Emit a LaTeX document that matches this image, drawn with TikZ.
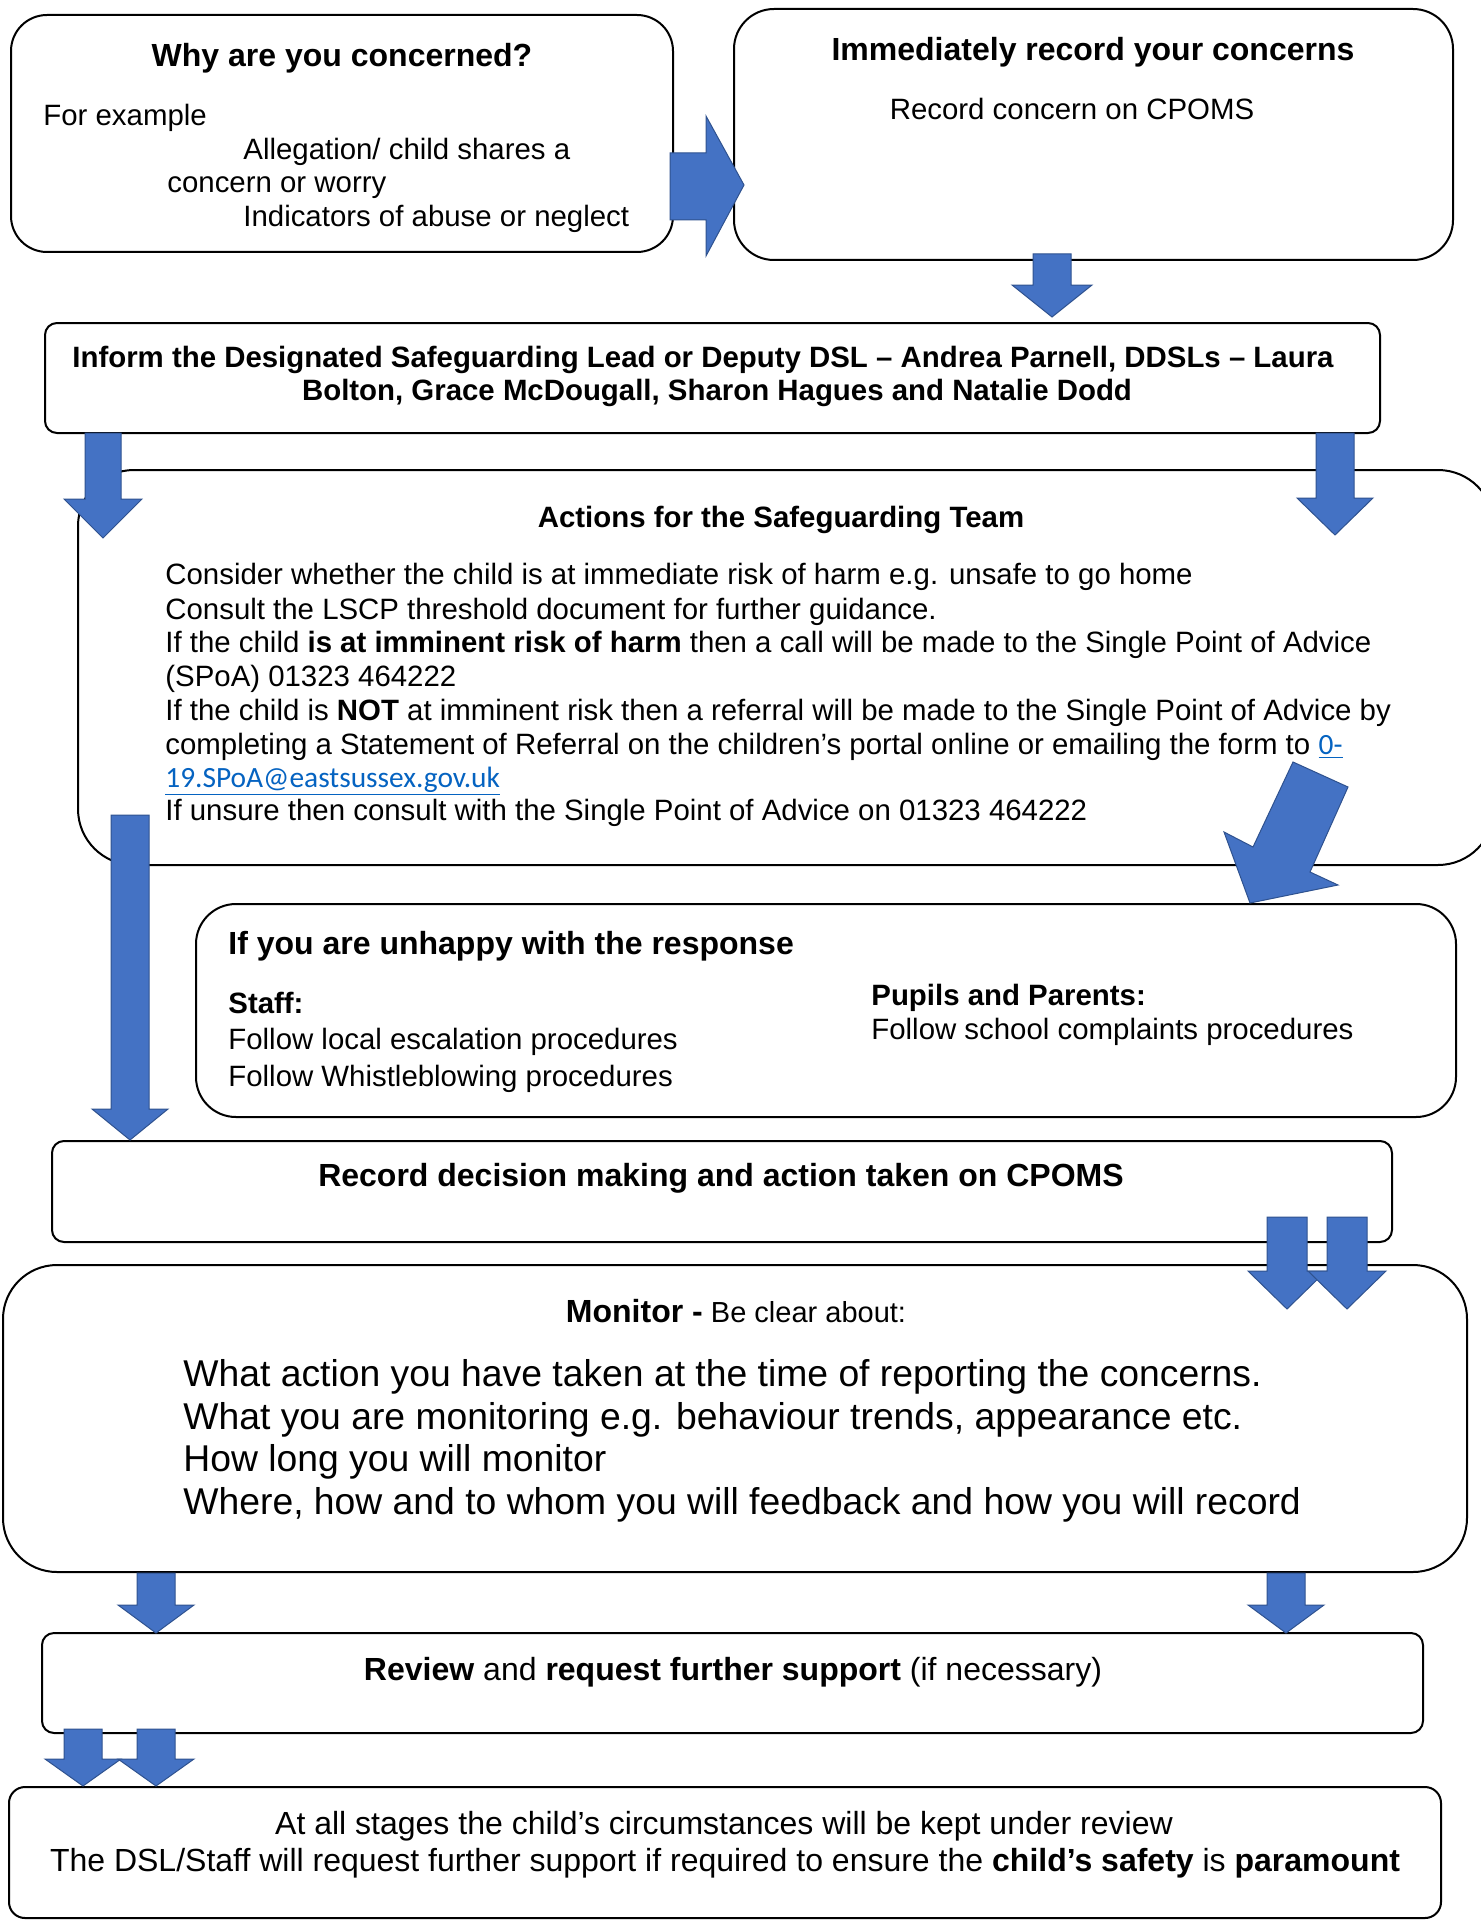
\documentclass[tikz,border=0pt]{standalone}
\usepackage{fontspec}
\setmainfont{Liberation Sans}
\newfontfamily\linkfont{Carlito}
\usetikzlibrary{fit}
\definecolor{arrowblue}{HTML}{4472C4}
\definecolor{arrowedge}{HTML}{2F528F}
\definecolor{linkblue}{HTML}{0563C1}
\tikzset{
 box/.style={draw=black, line width=1pt, fill=white, inner sep=0pt},
 barrow/.style={fill=arrowblue, draw=arrowedge, line width=0.5pt, line join=miter},
 txt/.style={inner sep=0pt, anchor=base west, font=\fontsize{14.7pt}{16.8pt}\selectfont},
 ctxt/.style={txt, anchor=base},
 head/.style={inner sep=0pt, anchor=base, font=\fontsize{16pt}{19pt}\selectfont\bfseries},
 big/.style={txt, font=\fontsize{18.65pt}{21.6pt}\selectfont},
}
% block arrow pointing down: centre x, shaft half, head half, top, neck, tip
\newcommand{\dnarrow}[6]{\draw[barrow] (#1-#2,#4)--(#1+#2,#4)--(#1+#2,#5)--(#1+#3,#5)--(#1,#6)--(#1-#3,#5)--(#1-#2,#5)--cycle;}
\newcommand{\maillink}[1]{\textcolor{linkblue}{\linkfont\underline{#1}}}
\begin{document}
\begin{tikzpicture}[x=0.5pt,y=-0.5pt]
 \useasboundingbox (0,0) rectangle (1480,1921);
 % boxes
 \node[box, rounded corners=18pt, fit={(11,15)(673,252)}] (why) {};
 \node[box, rounded corners=20pt, fit={(734,9)(1453,260)}] (record) {};
 \node[box, rounded corners=6pt, fit={(45,323)(1380,433)}] (inform) {};
 \node[box, rounded corners=28pt, fit={(78,470)(1494,865)}] (actions) {};
 \node[box, rounded corners=20pt, fit={(196,904)(1456,1117)}] (unhappy) {};
 \node[box, rounded corners=6pt, fit={(52,1141)(1392,1242)}] (decision) {};
 \node[box, rounded corners=27pt, fit={(3,1265)(1467,1572)}] (monitor) {};
 \node[box, rounded corners=6pt, fit={(42,1633)(1423,1733)}] (review) {};
 \node[box, rounded corners=8pt, fit={(9,1787)(1441,1918)}] (stages) {};
 % why are you concerned
 \node[head] (whyT) at (342,67) {Why are you concerned?};
 \node[txt] (whyA) at (43,126) {For example};
 \node[txt] (whyB) at (243,160) {Allegation/ child shares a};
 \node[txt] (whyC) at (167,193) {concern or worry};
 \node[txt] (whyD) at (243,227) {Indicators of abuse or neglect};
 % record concerns
 \node[head] (recordT) at (1093,61) {Immediately record your concerns};
 \node[ctxt] (recordA) at (1072,120) {Record concern on CPOMS};
 % inform
 \node[ctxt, font=\fontsize{14.7pt}{16.8pt}\selectfont\bfseries] (informA) at (703,367) {Inform the Designated Safeguarding Lead or Deputy DSL – Andrea Parnell, DDSLs – Laura};
 \node[ctxt, font=\fontsize{14.7pt}{16.8pt}\selectfont\bfseries] (informB) at (717,400) {Bolton, Grace McDougall, Sharon Hagues and Natalie Dodd};
 % actions
 \node[ctxt, font=\fontsize{14.7pt}{16.8pt}\selectfont\bfseries] (actionsT) at (781,527) {Actions for the Safeguarding Team};
 \node[txt] (actA) at (165,584) {Consider whether the child is at immediate risk of harm e.g. unsafe to go home};
 \node[txt] (actB) at (165,619) {Consult the LSCP threshold document for further guidance.};
 \node[txt] (actC) at (165,652) {If the child \textbf{is at imminent risk of harm} then a call will be made to the Single Point of Advice};
 \node[txt] (actD) at (165,686) {(SPoA) 01323 464222};
 \node[txt] (actE) at (165,720) {If the child is \textbf{NOT} at imminent risk then a referral will be made to the Single Point of Advice by};
 \node[txt] (actF) at (165,754) {completing a Statement of Referral on the children’s portal online or emailing the form to \maillink{0-}};
 \node[txt] (actG) at (165,787) {\maillink{19.SPoA@eastsussex.gov.uk}};
 \node[txt] (actH) at (165,820) {If unsure then consult with the Single Point of Advice on 01323 464222};
 % unhappy
 \node[head, anchor=base west] (unhappyT) at (228,954) {If you are unhappy with the response};
 \node[txt] (staffT) at (228,1013) {\textbf{Staff:}};
 \node[txt] (staffA) at (228,1049) {Follow local escalation procedures};
 \node[txt] (staffB) at (228,1086) {Follow Whistleblowing procedures};
 \node[txt] (pupilsT) at (871,1005) {\textbf{Pupils and Parents:}};
 \node[txt] (pupilsA) at (871,1039) {Follow school complaints procedures};
 % decision
 \node[head] (decisionT) at (721,1186) {Record decision making and action taken on CPOMS};
 % monitor
 \node[ctxt] (monitorT) at (736,1322) {{\fontsize{16pt}{19pt}\selectfont\bfseries Monitor -} {\fontsize{14.5pt}{17pt}\selectfont Be clear about:}};
 \node[big] (monA) at (183,1386) {What action you have taken at the time of reporting the concerns.};
 \node[big] (monB) at (183,1429) {What you are monitoring e.g. behaviour trends, appearance etc.};
 \node[big] (monC) at (183,1471) {How long you will monitor};
 \node[big] (monD) at (183,1514) {Where, how and to whom you will feedback and how you will record};
 % review
 \node[ctxt, font=\fontsize{16pt}{19pt}\selectfont] (reviewT) at (733,1680) {\textbf{Review} and \textbf{request further support} (if necessary)};
 % all stages
 \node[ctxt, font=\fontsize{16pt}{19pt}\selectfont] (stagesA) at (724,1834) {At all stages the child’s circumstances will be kept under review};
 \node[ctxt, font=\fontsize{16pt}{19pt}\selectfont] (stagesB) at (725,1871) {The DSL/Staff will request further support if required to ensure the \textbf{child’s safety} is \textbf{paramount}};
 % arrows
 \draw[barrow] (670,153)--(706,153)--(706,116)--(744,185)--(706,256)--(706,220)--(670,220)--cycle;
 \dnarrow{1052}{19}{40}{254}{285}{317}
 \dnarrow{103}{18}{39}{433}{499}{538}
 \dnarrow{1335}{19}{38}{433}{498}{535}
 \dnarrow{130}{19}{38}{815}{1109}{1140}
 \draw[barrow] (1293,762)--(1348,787)--(1310,872)--(1338,885)--(1250,903)--(1224,832)--(1253,847)--cycle;
 \dnarrow{1287}{20}{39}{1217}{1271}{1309}
 \dnarrow{1347}{20}{39}{1217}{1271}{1309}
 \dnarrow{156}{19}{38}{1573}{1605}{1633}
 \dnarrow{1286}{19}{38}{1573}{1605}{1633}
 \dnarrow{83}{19}{38}{1729}{1759}{1786}
 \dnarrow{156}{19}{38}{1729}{1759}{1786}
\end{tikzpicture}
\end{document}
